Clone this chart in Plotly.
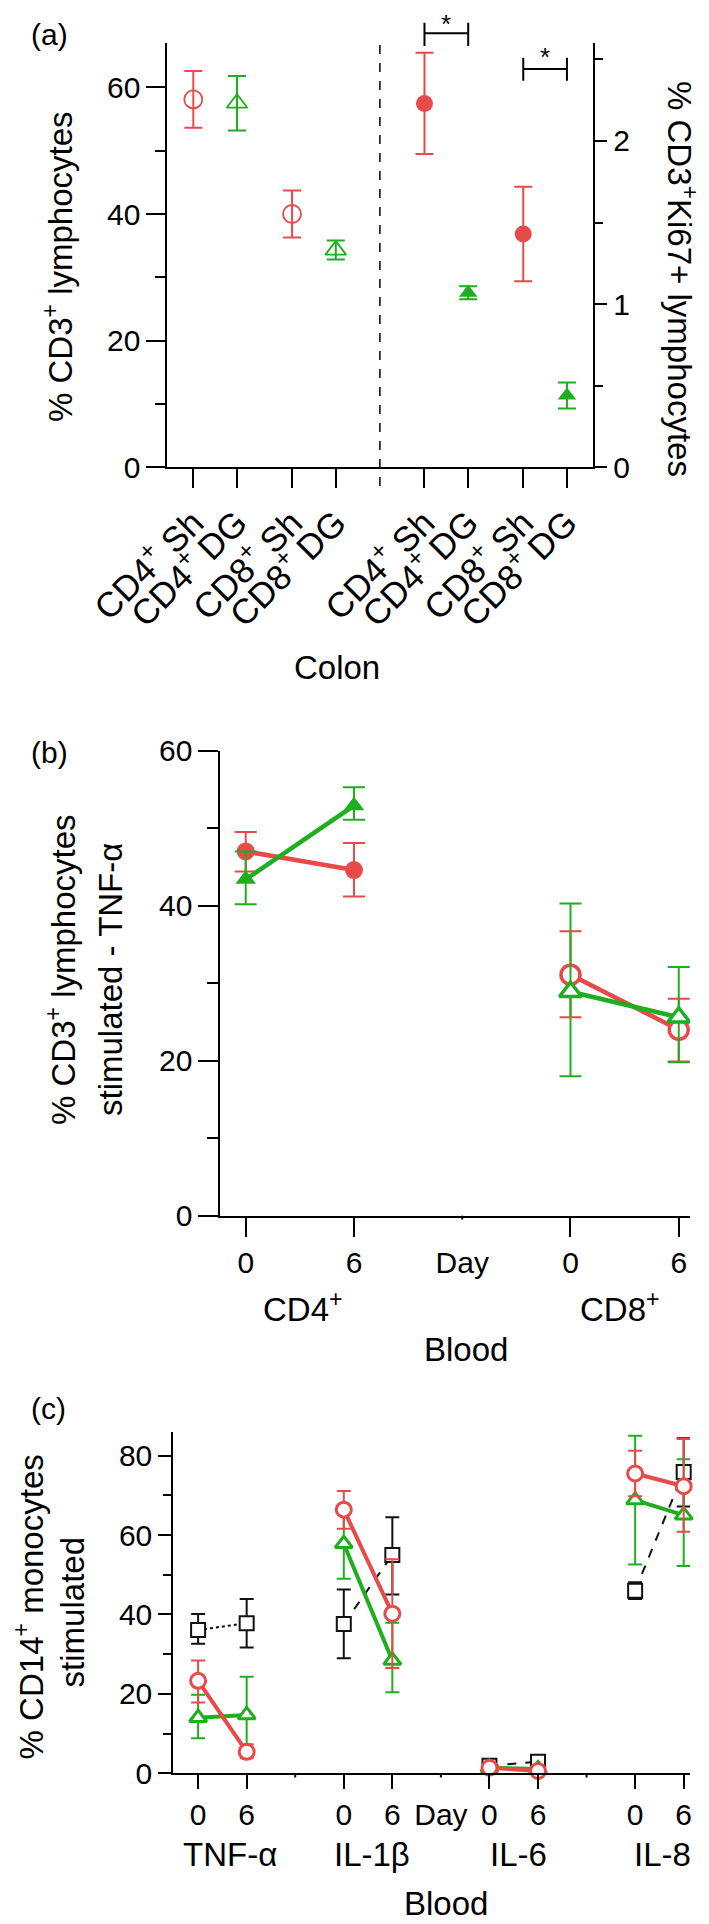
import plotly.graph_objects as go

# The page body keeps the browser's default 8px margin, so every pixel position
# below is measured from the window corner and shifted by that margin.
OFF = 8
W, H = 709 - OFF, 1924 - OFF
FONT = "Liberation Sans, Arial, Helvetica, sans-serif"
RED = "#e84a4a"
GREEN = "#1fae1f"
BLACK = "#111111"


def px(x):
    return (x - OFF) / W


def py(y):
    return 1 - (y - OFF) / H


# ---------------- data: panel (a) Colon ----------------
a_categories = ["CD4<sup>+</sup> Sh", "CD4<sup>+</sup> DG", "CD8<sup>+</sup> Sh", "CD8<sup>+</sup> DG"]
a_cd3_sh = [58.1, 40.0]          # % CD3+ lymphocytes, Sh (CD4, CD8)
a_cd3_sh_err = [4.5, 3.7]
a_cd3_dg = [57.5, 34.3]          # % CD3+ lymphocytes, DG (CD4, CD8)
a_cd3_dg_err = [4.3, 1.5]
a_ki67_sh = [2.23, 1.43]         # % CD3+Ki67+ lymphocytes, Sh
a_ki67_sh_err = [0.31, 0.29]
a_ki67_dg = [1.07, 0.44]         # % CD3+Ki67+ lymphocytes, DG
a_ki67_dg_err = [0.04, 0.08]
a_left_ticks = [0, 20, 40, 60]
a_right_ticks = [0, 1, 2]

# ---------------- data: panel (b) Blood TNF-a ----------------
b_days = ["0", "6"]
b_cd4_red = [47.0, 44.6]
b_cd4_red_up = [2.5, 3.5]
b_cd4_red_dn = [2.6, 3.4]
b_cd4_green = [43.4, 52.9]
b_cd4_green_up = [3.6, 2.4]
b_cd4_green_dn = [3.2, 1.8]
b_cd8_red = [31.1, 24.0]
b_cd8_red_up = [5.6, 4.0]
b_cd8_red_dn = [5.5, 4.1]
b_cd8_green = [28.9, 25.6]
b_cd8_green_up = [11.4, 6.5]
b_cd8_green_dn = [10.9, 5.8]
b_yticks = [0, 20, 40, 60]

# ---------------- data: panel (c) Blood CD14+ monocytes ----------------
c_cytokines = ["TNF-α", "IL-1β", "IL-6", "IL-8"]
c_black = [[36.1, 37.8], [37.6, 55.0], [1.9, 2.9], [46.0, 75.9]]
c_black_up = [[4.0, 6.1], [8.7, 9.5], [0.5, 0.5], [2.1, 8.5]]
c_black_dn = [[3.5, 6.1], [8.6, 10.0], [0.5, 0.5], [2.1, 8.7]]
c_black_dash = ["dot", "dash", "dash", "dash"]
c_red = [[23.3, 5.4], [66.4, 40.2], [1.4, 0.6], [75.5, 72.3]]
c_red_up = [[5.1, 1.9], [4.7, 13.7], [0.5, 0.3], [5.7, 11.9]]
c_red_dn = [[5.5, 1.6], [4.8, 13.7], [0.5, 0.3], [5.7, 11.5]]
c_green = [[14.0, 14.7], [57.8, 28.4], [1.4, 1.1], [68.8, 65.0]]
c_green_up = [[5.8, 9.6], [8.8, 9.5], [0.4, 0.4], [16.2, 14.1]]
c_green_dn = [[5.2, 9.1], [8.8, 8.0], [0.4, 0.4], [16.2, 12.8]]
c_yticks = [0, 20, 40, 60, 80]

# ---------------- layout positions ----------------
a_pos = [0, 1, 2.26, 3.26, 5.29, 6.29, 7.55, 8.55]
a_divider = 4.27
b_pos = [[0, 1], [3, 4]]
c_pos = [[0, 1], [3, 4], [6, 7], [9, 10]]

fig = go.Figure()


def err(up, dn=None, width=9, color=BLACK, thick=2):
    d = dict(type="data", array=up, width=width, color=color, thickness=thick, visible=True)
    if dn is not None:
        d.update(symmetric=False, arrayminus=dn)
    return d


# ---- panel (a)
fig.add_trace(go.Scatter(
    x=[a_pos[0], a_pos[2]], y=a_cd3_sh, mode="markers", xaxis="x", yaxis="y",
    marker=dict(symbol="circle-open", size=18, color=RED, line=dict(width=1.8)),
    error_y=err(a_cd3_sh_err, width=9, color=RED)))
fig.add_trace(go.Scatter(
    x=[a_pos[1], a_pos[3]], y=a_cd3_dg, mode="markers", xaxis="x", yaxis="y",
    marker=dict(symbol="triangle-up-open", size=18, color=GREEN, line=dict(width=1.8)),
    error_y=err(a_cd3_dg_err, width=9, color=GREEN)))
fig.add_trace(go.Scatter(
    x=[a_pos[4], a_pos[6]], y=a_ki67_sh, mode="markers", xaxis="x", yaxis="y2",
    marker=dict(symbol="circle", size=17, color=RED),
    error_y=err(a_ki67_sh_err, width=9, color=RED)))
fig.add_trace(go.Scatter(
    x=[a_pos[5], a_pos[7]], y=a_ki67_dg, mode="markers", xaxis="x", yaxis="y2",
    marker=dict(symbol="triangle-up", size=16, color=GREEN),
    error_y=err(a_ki67_dg_err, width=9, color=GREEN)))

# ---- panel (b)
fig.add_trace(go.Scatter(
    x=b_pos[0], y=b_cd4_red, mode="lines+markers", xaxis="x2", yaxis="y3",
    line=dict(color=RED, width=4.5),
    marker=dict(symbol="circle", size=18, color=RED),
    error_y=err(b_cd4_red_up, b_cd4_red_dn, width=11, color=RED)))
fig.add_trace(go.Scatter(
    x=b_pos[0], y=b_cd4_green, mode="lines+markers", xaxis="x2", yaxis="y3",
    line=dict(color=GREEN, width=4.5),
    marker=dict(symbol="triangle-up", size=18, color=GREEN),
    error_y=err(b_cd4_green_up, b_cd4_green_dn, width=11, color=GREEN)))
fig.add_trace(go.Scatter(
    x=b_pos[1], y=b_cd8_red, mode="lines+markers", xaxis="x2", yaxis="y3",
    line=dict(color=RED, width=4.5),
    marker=dict(symbol="circle", size=19, color="white", line=dict(color=RED, width=3.5)),
    error_y=err(b_cd8_red_up, b_cd8_red_dn, width=11, color=RED)))
fig.add_trace(go.Scatter(
    x=b_pos[1], y=b_cd8_green, mode="lines+markers", xaxis="x2", yaxis="y3",
    line=dict(color=GREEN, width=4.5),
    marker=dict(symbol="triangle-up", size=19, color="white", line=dict(color=GREEN, width=3.5)),
    error_y=err(b_cd8_green_up, b_cd8_green_dn, width=11, color=GREEN)))

# ---- panel (c)
for i in range(len(c_cytokines)):
    fig.add_trace(go.Scatter(
        x=c_pos[i], y=c_black[i], mode="lines+markers", xaxis="x3", yaxis="y4",
        cliponaxis=False,
        line=dict(color=BLACK, width=2, dash=c_black_dash[i]),
        marker=dict(symbol="square", size=14, color="white", line=dict(color=BLACK, width=2)),
        error_y=err(c_black_up[i], c_black_dn[i], width=7, color=BLACK)))
for i in range(len(c_cytokines)):
    fig.add_trace(go.Scatter(
        x=c_pos[i], y=c_green[i], mode="lines+markers", xaxis="x3", yaxis="y4",
        cliponaxis=False,
        line=dict(color=GREEN, width=4),
        marker=dict(symbol="triangle-up", size=15, color="white", line=dict(color=GREEN, width=3)),
        error_y=err(c_green_up[i], c_green_dn[i], width=7, color=GREEN)))
for i in range(len(c_cytokines)):
    fig.add_trace(go.Scatter(
        x=c_pos[i], y=c_red[i], mode="lines+markers", xaxis="x3", yaxis="y4",
        cliponaxis=False,
        line=dict(color=RED, width=4),
        marker=dict(symbol="circle", size=15, color="white", line=dict(color=RED, width=3)),
        error_y=err(c_red_up[i], c_red_dn[i], width=7, color=RED)))

axis_common = dict(showline=True, linecolor="black", linewidth=2, showgrid=False, zeroline=False,
                   ticks="outside", tickcolor="black", tickwidth=2, automargin=False,
                   tickfont=dict(family=FONT, size=30, color="black"))

fig.update_layout(
    width=W, height=H, margin=dict(l=0, r=0, t=0, b=0, pad=0, autoexpand=False),
    paper_bgcolor="white", plot_bgcolor="white", showlegend=False,
    font=dict(family=FONT, color="black"),
    xaxis=dict(axis_common, domain=[px(167.4), px(593.3)], range=[-0.593, 9.153], anchor="y",
               tickvals=a_pos, ticktext=a_categories * 2, tickangle=-45, ticklen=19,
               tickfont=dict(family=FONT, size=35, color="black")),
    yaxis=dict(axis_common, domain=[py(467.3), py(42.7)], range=[0, 67.05], anchor="x",
               tickvals=a_left_ticks, ticklen=19,
               minor=dict(tickvals=[10, 30, 50], ticks="outside", ticklen=10, tickwidth=2, tickcolor="black")),
    yaxis2=dict(axis_common, overlaying="y", side="right", anchor="x", range=[0, 2.602],
                tickvals=a_right_ticks, ticklen=12,
                minor=dict(tickvals=[0.5, 1.5, 2.5], ticks="outside", ticklen=8, tickwidth=2, tickcolor="black")),
    xaxis2=dict(axis_common, domain=[px(220.4), px(690)], range=[-0.234, 4.104], anchor="y3",
                tickvals=[0, 1, 2, 3, 4], ticktext=b_days + ["Day"] + b_days,
                tickcolor="rgba(0,0,0,0)", ticklen=19,
                minor=dict(tickvals=b_pos[0] + b_pos[1], ticks="outside", ticklen=19, tickwidth=2, tickcolor="black")),
    yaxis3=dict(axis_common, domain=[py(1215.7), py(750.7)], range=[0, 60], anchor="x2",
                tickvals=b_yticks, ticklen=20,
                minor=dict(tickvals=[10, 30, 50], ticks="outside", ticklen=11, tickwidth=2, tickcolor="black")),
    xaxis3=dict(axis_common, domain=[px(173.3), px(690)], range=[-0.511, 10.13], anchor="y4",
                tickvals=[0, 1, 3, 4, 5, 6, 7, 9, 10],
                ticktext=["0", "6", "0", "6", "Day", "0", "6", "0", "6"],
                tickcolor="rgba(0,0,0,0)", ticklen=14,
                minor=dict(tickvals=[p for pair in c_pos for p in pair], ticks="outside", ticklen=14,
                           tickwidth=2, tickcolor="black")),
    yaxis4=dict(axis_common, domain=[py(1773.3), py(1431.8)], range=[0, 86], anchor="x3",
                tickvals=c_yticks, ticklen=13,
                minor=dict(tickvals=[10, 30, 50, 70], ticks="outside", ticklen=8, tickwidth=2, tickcolor="black")),
)

shapes = []
# dashed divider in panel (a)
shapes.append(dict(type="line", xref="x", yref="paper", x0=a_divider, x1=a_divider,
                   y0=py(486), y1=py(42.7), line=dict(color="black", width=1.5, dash="dash")))
# significance brackets
for (i0, i1, yh, yt, yb) in [(4, 5, 33.3, 22.7, 46.0), (6, 7, 69.0, 57.7, 80.7)]:
    shapes.append(dict(type="line", xref="x", yref="paper", x0=a_pos[i0], x1=a_pos[i1],
                       y0=py(yh), y1=py(yh), line=dict(color="black", width=2)))
    for k in (i0, i1):
        shapes.append(dict(type="line", xref="x", yref="paper", x0=a_pos[k], x1=a_pos[k],
                           y0=py(yt), y1=py(yb), line=dict(color="black", width=2)))
# small ticks
shapes.append(dict(type="line", xref="x2", yref="paper", x0=2, x1=2, y0=py(1215.7), y1=py(1219.5),
                   line=dict(color="black", width=2)))
for xv in (2, 5, 8):
    shapes.append(dict(type="line", xref="x3", yref="paper", x0=xv, x1=xv, y0=py(1773.3), y1=py(1777.5),
                       line=dict(color="black", width=2)))
fig.update_layout(shapes=shapes)

ann = []


def text(t, x, y, size=33, angle=0):
    ann.append(dict(text=t, x=px(x), y=py(y), xref="paper", yref="paper", showarrow=False,
                    xanchor="center", yanchor="middle", textangle=angle,
                    font=dict(family=FONT, size=size, color="black")))


text("(a)", 49, 35, 30)
text("(b)", 49, 752, 30)
text("(c)", 48, 1408, 30)
text("*", (a_pos[4] + a_pos[5]) / 2 * 43.7 + 193.3, 23.5, 26)
text("*", (a_pos[6] + a_pos[7]) / 2 * 43.7 + 193.3, 57, 26)
text("% CD3<sup>+</sup> lymphocytes", 58, 267, 33, -90)
text("% CD3<sup>+</sup>Ki67+ lymphocytes", 682, 279, 33, 90)
text("Colon", 337, 667, 33)
text("% CD3<sup>+</sup> lymphocytes", 61, 970, 33, -90)
text("stimulated - TNF-α", 110, 980, 33, -90)
text("CD4<sup>+</sup>", 303, 1307, 33)
text("CD8<sup>+</sup>", 620, 1307, 33)
text("Blood", 466, 1349, 33)
text("% CD14<sup>+</sup> monocytes", 29.4, 1607, 33, -90)
text("stimulated", 72.4, 1612, 33, -90)
for name, xc in zip(c_cytokines, [229.6, 372, 518, 662]):
    text(name, xc, 1854.5, 33)
text("Blood", 445.7, 1903.5, 33)
fig.update_layout(annotations=ann)

fig.write_html("out.html")
